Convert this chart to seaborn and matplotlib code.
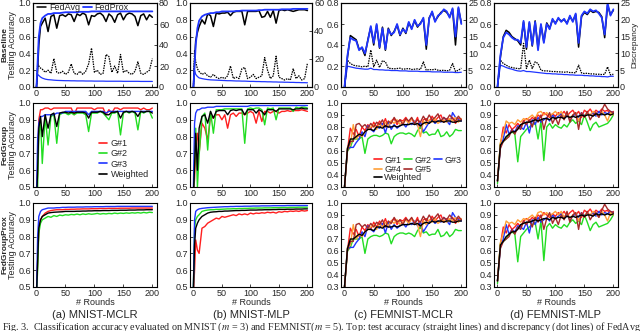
import matplotlib
matplotlib.use("Agg")
import matplotlib.pyplot as plt
import seaborn as sns
from matplotlib.lines import Line2D

# x positions (communication rounds)
MNIST_ROUNDS = [0, 2, 4, 7] + list(range(10, 201, 5))
FEMNIST_ROUNDS = list(range(0, 201, 5))

# ---------------- Baseline row: accuracy (left axis) + discrepancy (right axis)
# (a) MNIST-MCLR
avg_acc_a = [0.0, 0.2, 0.5, 0.72, 0.76, 0.82, 0.66, 0.84, 0.86, 0.70, 0.85, 0.86, 0.84, 0.87, 0.86, 0.78, 0.87, 0.85, 0.88, 0.86, 0.74, 0.85,
             0.84, 0.87, 0.88, 0.85, 0.78, 0.87, 0.84, 0.77, 0.86, 0.88, 0.80, 0.86, 0.88, 0.87, 0.84, 0.73, 0.85, 0.87, 0.80, 0.86, 0.83]
prox_acc_a = [0.0, 0.3, 0.6, 0.76, 0.82, 0.85, 0.87, 0.87, 0.88, 0.88, 0.88, 0.885, 0.89, 0.89, 0.89, 0.89, 0.89, 0.895, 0.895, 0.895, 0.895,
              0.9, 0.9, 0.9, 0.9, 0.9, 0.9, 0.9, 0.9, 0.9, 0.9, 0.9, 0.9, 0.9, 0.9, 0.9, 0.9, 0.9, 0.9, 0.9, 0.9, 0.9, 0.9]
avg_disc_a = [0, 22, 20, 18, 17, 14, 16, 13, 27, 14, 13, 15, 12, 14, 22, 13, 12, 15, 12, 15, 22, 37, 14, 16, 12, 13, 31, 29, 14, 20, 13, 31,
              14, 16, 13, 12, 15, 24, 13, 12, 14, 16, 27]
prox_disc_a = [0, 12, 11, 9.5, 8.5, 7.5, 7, 6.8, 6.5, 6.3, 6.2, 6.1, 6, 6, 5.9, 5.9, 5.8, 5.8, 5.8, 5.7, 5.7, 5.7, 5.6, 5.6, 5.6, 5.6, 5.5,
               5.5, 5.5, 5.5, 5.5, 5.5, 5.4, 5.4, 5.4, 5.4, 5.4, 5.4, 5.3, 5.3, 5.3, 5.3, 5.3]
# (b) MNIST-MLP
avg_acc_b = [0.0, 0.3, 0.55, 0.65, 0.72, 0.80, 0.75, 0.87, 0.85, 0.72, 0.88, 0.87, 0.88, 0.88, 0.89, 0.85, 0.89, 0.90, 0.90, 0.90, 0.74, 0.90,
             0.90, 0.90, 0.90, 0.91, 0.83, 0.84, 0.90, 0.83, 0.91, 0.76, 0.91, 0.92, 0.91, 0.92, 0.91, 0.90, 0.91, 0.92, 0.92, 0.92, 0.91]
prox_acc_b = [0.0, 0.25, 0.5, 0.7, 0.79, 0.84, 0.86, 0.87, 0.88, 0.88, 0.89, 0.89, 0.9, 0.9, 0.9, 0.9, 0.9, 0.905, 0.905, 0.91, 0.91, 0.91,
              0.91, 0.91, 0.91, 0.915, 0.915, 0.92, 0.92, 0.92, 0.92, 0.92, 0.92, 0.925, 0.925, 0.925, 0.925, 0.93, 0.93, 0.93, 0.93, 0.93, 0.93]
avg_disc_b = [0, 26, 18, 13, 11, 9, 10, 8, 7, 9, 7, 6, 7, 6, 8, 15, 6, 7, 6, 13, 14, 6, 7, 9, 6, 7, 8, 21, 12, 6, 8, 22, 7, 6, 5, 6, 5, 13,
              6, 8, 5, 6, 17]
prox_disc_b = [0, 12, 9, 7.5, 6.5, 6, 5.6, 5.3, 5.1, 5, 4.9, 4.8, 4.7, 4.6, 4.5, 4.5, 4.4, 4.3, 4.3, 4.2, 4.2, 4.1, 4.0, 4.0, 3.9, 3.9, 3.8,
               3.8, 3.7, 3.7, 3.6, 3.6, 3.5, 3.5, 3.4, 3.4, 3.3, 3.3, 3.2, 3.2, 3.1, 3.1, 3.0]
# (c) FEMNIST-MCLR
avg_acc_c = [0.0, 0.28, 0.49, 0.47, 0.45, 0.36, 0.37, 0.30, 0.45, 0.57, 0.40, 0.59, 0.37, 0.57, 0.35, 0.56, 0.49, 0.53, 0.59, 0.49, 0.56,
             0.51, 0.61, 0.56, 0.63, 0.57, 0.61, 0.65, 0.36, 0.66, 0.71, 0.63, 0.67, 0.71, 0.73, 0.71, 0.67, 0.74, 0.40, 0.75, 0.61]
prox_acc_c = [0.0, 0.30, 0.47, 0.45, 0.44, 0.35, 0.38, 0.32, 0.44, 0.58, 0.42, 0.60, 0.38, 0.56, 0.36, 0.55, 0.50, 0.52, 0.60, 0.50, 0.55,
              0.52, 0.62, 0.55, 0.64, 0.58, 0.60, 0.66, 0.40, 0.65, 0.72, 0.62, 0.68, 0.70, 0.74, 0.72, 0.66, 0.75, 0.48, 0.76, 0.60]
avg_disc_c = [0, 8, 7, 6.5, 6.3, 6.2, 6.0, 6.2, 6.0, 11, 6.0, 8.0, 5.8, 7.8, 7.5, 5.6, 5.5, 5.4, 5.5, 5.6, 5.3, 5.4, 5.5, 5.2, 5.3, 5.4,
              5.2, 7.5, 5.0, 5.2, 5.1, 5.3, 5.0, 4.9, 5.0, 4.8, 5.0, 7.0, 4.6, 5.0, 5.6]
prox_disc_c = [0, 6.2, 6.0, 5.8, 5.6, 5.5, 5.4, 5.3, 5.3, 5.6, 5.2, 5.2, 5.1, 5.1, 5.0, 5.0, 4.9, 4.9, 4.9, 4.8, 4.8, 4.8, 4.7, 4.7, 4.7,
               4.7, 4.6, 4.6, 4.6, 4.6, 4.5, 4.5, 4.5, 4.5, 4.4, 4.4, 4.4, 4.4, 4.3, 4.3, 4.4]
# (d) FEMNIST-MLP
avg_acc_d = [0.0, 0.28, 0.48, 0.54, 0.52, 0.48, 0.46, 0.44, 0.40, 0.62, 0.36, 0.61, 0.39, 0.63, 0.37, 0.59, 0.43, 0.61, 0.56, 0.64, 0.61,
             0.65, 0.63, 0.64, 0.61, 0.67, 0.63, 0.69, 0.38, 0.67, 0.71, 0.69, 0.73, 0.71, 0.72, 0.71, 0.67, 0.47, 0.78, 0.69, 0.73]
prox_acc_d = [0.0, 0.30, 0.47, 0.52, 0.50, 0.47, 0.45, 0.45, 0.42, 0.63, 0.38, 0.62, 0.40, 0.62, 0.35, 0.60, 0.42, 0.60, 0.55, 0.65, 0.60,
              0.66, 0.62, 0.65, 0.60, 0.68, 0.62, 0.70, 0.42, 0.68, 0.72, 0.70, 0.74, 0.72, 0.73, 0.70, 0.66, 0.50, 0.80, 0.68, 0.74]
avg_disc_d = [0, 8, 7, 6.5, 6.0, 5.8, 5.6, 5.5, 5.4, 13, 5.5, 8.0, 5.5, 7.5, 7.0, 5.0, 4.8, 4.8, 4.7, 4.6, 4.6, 4.5, 4.5, 4.4, 4.5, 4.3,
              4.3, 4.2, 6.5, 4.2, 4.0, 4.1, 3.9, 3.9, 3.8, 3.8, 3.7, 3.8, 6.0, 3.6, 3.8]
prox_disc_d = [0, 6.5, 6.2, 5.8, 5.5, 5.3, 5.0, 4.8, 4.7, 4.9, 4.6, 4.6, 4.5, 4.4, 4.3, 4.2, 4.1, 4.0, 4.0, 3.9, 3.9, 3.8, 3.8, 3.7, 3.7,
               3.6, 3.6, 3.5, 3.5, 3.5, 3.4, 3.4, 3.3, 3.3, 3.2, 3.2, 3.1, 3.1, 3.0, 3.2, 3.2]

# ---------------- FedGroup row, MNIST (G#1, G#2, G#3, Weighted)
g1_a_mid = [0.40, 0.60, 0.90, 0.96, 0.96, 0.97, 0.97, 0.96, 0.97, 0.97, 0.97, 0.97, 0.97, 0.97, 0.97, 0.93, 0.97, 0.97, 0.97, 0.97, 0.97,
            0.97, 0.96, 0.97, 0.97, 0.97, 0.93, 0.96, 0.94, 0.97, 0.97, 0.96, 0.97, 0.97, 0.97, 0.97, 0.97, 0.97, 0.96, 0.97, 0.96, 0.96, 0.97]
g2_a_mid = [0.40, 0.50, 0.80, 0.90, 0.64, 0.92, 0.75, 0.92, 0.93, 0.76, 0.93, 0.94, 0.94, 0.93, 0.94, 0.93, 0.94, 0.94, 0.94, 0.93, 0.83,
            0.94, 0.94, 0.94, 0.95, 0.94, 0.92, 0.90, 0.94, 0.94, 0.95, 0.81, 0.94, 0.95, 0.94, 0.95, 0.94, 0.84, 0.95, 0.94, 0.95, 0.95, 0.91]
g3_a_mid = [0.45, 0.78, 0.88, 0.92, 0.92, 0.93, 0.93, 0.93, 0.93, 0.94, 0.94, 0.94, 0.95, 0.95, 0.95, 0.95, 0.95, 0.95, 0.95, 0.95, 0.93,
            0.95, 0.95, 0.95, 0.95, 0.95, 0.94, 0.95, 0.95, 0.95, 0.95, 0.95, 0.95, 0.95, 0.95, 0.95, 0.95, 0.95, 0.95, 0.95, 0.95, 0.95, 0.95]
wt_a_mid = [0.40, 0.60, 0.85, 0.92, 0.80, 0.93, 0.85, 0.93, 0.94, 0.86, 0.94, 0.945, 0.945, 0.94, 0.945, 0.94, 0.945, 0.945, 0.945, 0.94,
            0.91, 0.945, 0.945, 0.945, 0.95, 0.945, 0.93, 0.93, 0.945, 0.945, 0.95, 0.91, 0.945, 0.95, 0.945, 0.95, 0.945, 0.92, 0.95, 0.945,
            0.95, 0.95, 0.94]
g1_b_mid = [0.45, 0.55, 0.75, 0.82, 0.70, 0.88, 0.85, 0.78, 0.92, 0.91, 0.93, 0.93, 0.90, 0.93, 0.85, 0.93, 0.94, 0.92, 0.94, 0.94, 0.93,
            0.94, 0.95, 0.94, 0.88, 0.95, 0.89, 0.95, 0.95, 0.94, 0.95, 0.95, 0.94, 0.95, 0.95, 0.955, 0.95, 0.955, 0.955, 0.955, 0.96, 0.955,
            0.95]
g2_b_mid = [0.45, 0.65, 0.85, 0.50, 0.69, 0.92, 0.94, 0.72, 0.95, 0.82, 0.96, 0.96, 0.96, 0.965, 0.965, 0.965, 0.965, 0.965, 0.965, 0.965,
            0.76, 0.965, 0.97, 0.965, 0.97, 0.97, 0.96, 0.87, 0.97, 0.965, 0.97, 0.90, 0.97, 0.97, 0.97, 0.97, 0.97, 0.95, 0.975, 0.97, 0.975,
            0.975, 0.97]
g3_b_mid = [0.50, 0.88, 0.94, 0.96, 0.96, 0.97, 0.97, 0.975, 0.975, 0.975, 0.98, 0.98, 0.98, 0.98, 0.98, 0.98, 0.98, 0.98, 0.98, 0.98,
            0.98, 0.98, 0.985, 0.985, 0.985, 0.985, 0.985, 0.985, 0.985, 0.985, 0.985, 0.985, 0.985, 0.985, 0.985, 0.985, 0.985, 0.985,
            0.985, 0.985, 0.985, 0.985, 0.985]
wt_b_mid = [0.45, 0.62, 0.82, 0.60, 0.85, 0.92, 0.93, 0.88, 0.95, 0.91, 0.95, 0.955, 0.955, 0.955, 0.93, 0.955, 0.96, 0.955, 0.96, 0.96,
            0.93, 0.96, 0.96, 0.96, 0.94, 0.96, 0.95, 0.93, 0.96, 0.96, 0.96, 0.95, 0.965, 0.965, 0.965, 0.965, 0.965, 0.96, 0.965, 0.965,
            0.97, 0.965, 0.965]

# ---------------- FedGroup / FedGroupProx, FEMNIST (G#1..G#5, Weighted)
g1_c = [0.3, 0.6, 0.79, 0.74, 0.78, 0.72, 0.8, 0.77, 0.82, 0.78, 0.84, 0.8, 0.85, 0.81, 0.87, 0.8, 0.85, 0.87, 0.82, 0.86, 0.85, 0.88, 0.84,
        0.87, 0.83, 0.88, 0.79, 0.86, 0.87, 0.84, 0.89, 0.85, 0.88, 0.9, 0.84, 0.87, 0.86, 0.88, 0.83, 0.87, 0.86]
g2_c = [0.3, 0.6, 0.63, 0.7, 0.7, 0.7, 0.72, 0.58, 0.7, 0.72, 0.73, 0.73, 0.72, 0.73, 0.75, 0.74, 0.66, 0.72, 0.74, 0.75, 0.75, 0.74, 0.75,
        0.74, 0.72, 0.77, 0.8, 0.75, 0.76, 0.73, 0.74, 0.74, 0.78, 0.72, 0.73, 0.76, 0.72, 0.74, 0.78, 0.77, 0.77]
g3_c = [0.3, 0.62, 0.63, 0.63, 0.67, 0.7, 0.76, 0.72, 0.81, 0.78, 0.76, 0.8, 0.79, 0.83, 0.75, 0.84, 0.78, 0.82, 0.79, 0.81, 0.83, 0.8, 0.84,
        0.82, 0.85, 0.81, 0.84, 0.76, 0.8, 0.84, 0.86, 0.83, 0.85, 0.84, 0.88, 0.85, 0.82, 0.92, 0.88, 0.86, 0.85]
g4_c = [0.3, 0.63, 0.65, 0.82, 0.7, 0.74, 0.72, 0.76, 0.78, 0.8, 0.82, 0.78, 0.83, 0.8, 0.84, 0.81, 0.85, 0.83, 0.86, 0.82, 0.84, 0.86, 0.83,
        0.87, 0.84, 0.82, 0.72, 0.85, 0.82, 0.86, 0.84, 0.87, 0.83, 0.85, 0.86, 0.84, 0.87, 0.85, 0.88, 0.84, 0.87]
g5_c = [0.3, 0.6, 0.68, 0.68, 0.82, 0.83, 0.8, 0.82, 0.79, 0.83, 0.8, 0.84, 0.82, 0.86, 0.8, 0.85, 0.83, 0.88, 0.84, 0.86, 0.82, 0.87, 0.85,
        0.88, 0.83, 0.86, 0.84, 0.89, 0.85, 0.9, 0.86, 0.88, 0.91, 0.85, 0.88, 0.86, 0.9, 0.87, 0.85, 0.89, 0.86]
wt_c = [0.3, 0.62, 0.7, 0.7, 0.72, 0.74, 0.73, 0.76, 0.78, 0.78, 0.77, 0.8, 0.8, 0.79, 0.81, 0.8, 0.8, 0.81, 0.8, 0.81, 0.82, 0.82, 0.82,
        0.83, 0.82, 0.83, 0.81, 0.83, 0.84, 0.83, 0.85, 0.84, 0.85, 0.85, 0.84, 0.85, 0.85, 0.84, 0.84, 0.85, 0.85]
g1_d = [0.35, 0.65, 0.8, 0.75, 0.82, 0.78, 0.8, 0.83, 0.8, 0.85, 0.87, 0.85, 0.88, 0.86, 0.9, 0.88, 0.92, 0.9, 0.88, 0.91, 0.89, 0.92, 0.9,
        0.93, 0.89, 0.92, 0.94, 0.9, 0.93, 0.88, 0.94, 0.92, 0.95, 0.91, 0.94, 0.92, 0.95, 0.93, 0.94, 0.9, 0.93]
g2_d = [0.33, 0.66, 0.68, 0.7, 0.74, 0.76, 0.74, 0.51, 0.72, 0.75, 0.78, 0.8, 0.82, 0.84, 0.7, 0.85, 0.52, 0.8, 0.83, 0.79, 0.82, 0.8, 0.79,
        0.82, 0.8, 0.84, 0.86, 0.83, 0.85, 0.82, 0.9, 0.84, 0.77, 0.82, 0.84, 0.8, 0.81, 0.82, 0.83, 0.86, 0.9]
g3_d = [0.35, 0.63, 0.7, 0.82, 0.74, 0.78, 0.76, 0.81, 0.8, 0.78, 0.84, 0.75, 0.86, 0.82, 0.88, 0.84, 0.86, 0.88, 0.85, 0.9, 0.87, 0.89, 0.91,
        0.88, 0.9, 0.86, 0.89, 0.91, 0.88, 0.92, 0.89, 0.91, 0.9, 0.92, 0.89, 0.93, 0.9, 0.92, 0.91, 0.93, 0.92]
g4_d = [0.35, 0.67, 0.75, 0.85, 0.83, 0.84, 0.82, 0.86, 0.84, 0.87, 0.86, 0.88, 0.9, 0.87, 0.92, 0.93, 0.9, 0.92, 0.89, 0.91, 0.93, 0.9, 0.93,
        0.88, 0.92, 0.87, 0.9, 0.92, 0.85, 0.91, 0.88, 0.92, 0.9, 0.93, 0.91, 0.88, 0.93, 0.9, 0.85, 0.92, 0.9]
g5_d = [0.35, 0.62, 0.68, 0.7, 0.72, 0.78, 0.74, 0.8, 0.78, 0.85, 0.82, 0.86, 0.8, 0.88, 0.84, 0.9, 0.78, 0.87, 0.92, 0.83, 0.88, 0.82, 0.9,
        0.86, 0.93, 0.84, 0.9, 0.92, 0.78, 0.92, 0.88, 0.93, 0.86, 0.9, 0.92, 0.88, 0.94, 0.99, 0.95, 0.93, 0.92]
wt_d = [0.35, 0.65, 0.68, 0.72, 0.74, 0.76, 0.76, 0.78, 0.82, 0.83, 0.84, 0.84, 0.85, 0.86, 0.85, 0.86, 0.87, 0.87, 0.86, 0.88, 0.87, 0.88,
        0.88, 0.87, 0.89, 0.88, 0.89, 0.88, 0.89, 0.9, 0.89, 0.9, 0.9, 0.89, 0.91, 0.9, 0.91, 0.9, 0.91, 0.9, 0.91]

# ---------------- FedGroupProx row, MNIST
g1_a_bot = [0.45, 0.65, 0.85, 0.90, 0.92, 0.94, 0.95, 0.955, 0.958, 0.96, 0.96, 0.96, 0.962, 0.962, 0.963, 0.963, 0.964, 0.964, 0.965,
            0.965, 0.965, 0.966, 0.966, 0.966, 0.967, 0.967, 0.967, 0.968, 0.968, 0.968, 0.968, 0.969, 0.969, 0.969, 0.969, 0.97, 0.97, 0.97,
            0.97, 0.97, 0.97, 0.97, 0.97]
g2_a_bot = [0.45, 0.60, 0.82, 0.88, 0.90, 0.91, 0.92, 0.915, 0.925, 0.92, 0.928, 0.925, 0.93, 0.928, 0.932, 0.93, 0.934, 0.93, 0.935, 0.932,
            0.936, 0.933, 0.935, 0.938, 0.934, 0.937, 0.935, 0.938, 0.936, 0.94, 0.937, 0.94, 0.938, 0.941, 0.939, 0.942, 0.94, 0.943, 0.94,
            0.944, 0.941, 0.945, 0.943]
g3_a_bot = [0.45, 0.80, 0.92, 0.95, 0.96, 0.965, 0.97, 0.97, 0.97, 0.972, 0.972, 0.974, 0.974, 0.975, 0.975, 0.975, 0.976, 0.976, 0.976,
            0.977, 0.977, 0.977, 0.978, 0.978, 0.978, 0.978, 0.979, 0.979, 0.979, 0.979, 0.98, 0.98, 0.98, 0.98, 0.98, 0.98, 0.98, 0.98, 0.98,
            0.98, 0.98, 0.98, 0.98]
wt_a_bot = [0.45, 0.65, 0.85, 0.90, 0.92, 0.93, 0.94, 0.943, 0.945, 0.946, 0.947, 0.948, 0.95, 0.95, 0.95, 0.95, 0.951, 0.951, 0.952,
            0.952, 0.953, 0.953, 0.954, 0.954, 0.954, 0.955, 0.955, 0.955, 0.956, 0.956, 0.956, 0.957, 0.957, 0.957, 0.958, 0.958, 0.958,
            0.959, 0.959, 0.959, 0.96, 0.96, 0.96]
g1_b_bot = [0.45, 0.60, 0.78, 0.72, 0.70, 0.85, 0.86, 0.88, 0.89, 0.90, 0.91, 0.905, 0.92, 0.915, 0.92, 0.925, 0.93, 0.925, 0.935, 0.93,
            0.935, 0.93, 0.94, 0.935, 0.94, 0.938, 0.942, 0.94, 0.945, 0.942, 0.945, 0.94, 0.948, 0.945, 0.95, 0.948, 0.952, 0.95, 0.953,
            0.95, 0.955, 0.952, 0.955]
g2_b_bot = [0.50, 0.85, 0.90, 0.92, 0.93, 0.95, 0.955, 0.958, 0.96, 0.96, 0.962, 0.962, 0.963, 0.964, 0.965, 0.965, 0.966, 0.966, 0.967,
            0.967, 0.968, 0.968, 0.969, 0.969, 0.97, 0.97, 0.97, 0.971, 0.971, 0.971, 0.972, 0.972, 0.972, 0.973, 0.973, 0.973, 0.974, 0.974,
            0.974, 0.975, 0.975, 0.975, 0.975]
g3_b_bot = [0.50, 0.90, 0.95, 0.96, 0.965, 0.968, 0.97, 0.972, 0.973, 0.974, 0.975, 0.976, 0.977, 0.978, 0.978, 0.979, 0.979, 0.98, 0.98,
            0.98, 0.981, 0.981, 0.981, 0.982, 0.982, 0.982, 0.983, 0.983, 0.983, 0.983, 0.984, 0.984, 0.984, 0.984, 0.984, 0.985, 0.985,
            0.985, 0.985, 0.985, 0.985, 0.985, 0.985]
wt_b_bot = [0.50, 0.75, 0.85, 0.88, 0.90, 0.92, 0.93, 0.94, 0.945, 0.947, 0.948, 0.95, 0.95, 0.952, 0.952, 0.953, 0.954, 0.955, 0.955,
            0.956, 0.956, 0.957, 0.958, 0.958, 0.958, 0.959, 0.959, 0.96, 0.96, 0.96, 0.961, 0.961, 0.962, 0.962, 0.962, 0.963, 0.963, 0.963,
            0.964, 0.964, 0.964, 0.965, 0.965]

SUBTITLES = ["(a) MNIST-MCLR", "(b) MNIST-MLP", "(c) FEMNIST-MCLR", "(d) FEMNIST-MLP"]
ROW_NAMES = ["Baseline", "FedGroup", "FedGroupProx"]
CAPTION = ("Fig. 3.  Classification accuracy evaluated on MNIST ($m$ = 3) and FEMNIST($m$ = 5). "
           "Top: test accuracy (straight lines) and discrepancy (dot lines) of FedAvg")

RED, GREEN, BLUE = "#ff1f1f", "#22dd22", "#1f35ff"
ORANGE, BROWN, BLACK = "#ffa038", "#a52a2a", "black"

sns.set_style("ticks")
plt.rcParams["font.family"] = ["Liberation Sans Narrow", "Liberation Sans", "DejaVu Sans"]
plt.rcParams["mathtext.fontset"] = "stix"
plt.rcParams["axes.edgecolor"] = "black"
plt.rcParams["axes.linewidth"] = 0.8

fig = plt.figure(figsize=(6.4, 3.31), dpi=100)
W, H = 640.0, 331.0
cols = [(33, 157), (190, 312), (341, 466), (494, 618)]
rows = [(3, 87), (103, 187), (203, 287)]
TS = 6.5
LS = 6.5


def make_ax(c, r):
    x0, x1 = cols[c]
    y0, y1 = rows[r]
    return fig.add_axes([x0 / W, 1 - y1 / H, (x1 - x0) / W, (y1 - y0) / H])


def style(ax, ylim, step):
    ax.set_xlim(-6, 208)
    ax.set_ylim(*ylim)
    ax.set_xticks([0, 50, 100, 150, 200])
    ticks = [round(ylim[0] + i * step, 2) for i in range(int(round((ylim[1] - ylim[0]) / step)) + 1)]
    ax.set_yticks(ticks)
    ax.set_yticklabels([f"{t:.1f}" for t in ticks])
    ax.tick_params(labelsize=TS, direction="in", length=2.5, width=0.6, pad=1.5)
    ax.set_xlabel("")
    ax.set_ylabel("")


def lines(ax, x, series, lw=1.0):
    for vals, color in series:
        sns.lineplot(x=x, y=vals, ax=ax, color=color, linewidth=lw)


def handle(color, lw=1.2):
    return Line2D([], [], color=color, lw=lw)


# ---- top row
top = [
    (MNIST_ROUNDS, avg_acc_a, prox_acc_a, avg_disc_a, prox_disc_a, (0, 1.0), 0.2, 80, 20),
    (MNIST_ROUNDS, avg_acc_b, prox_acc_b, avg_disc_b, prox_disc_b, (0, 1.0), 0.2, 60, 20),
    (FEMNIST_ROUNDS, avg_acc_c, prox_acc_c, avg_disc_c, prox_disc_c, (0, 0.8), 0.2, 25, 5),
    (FEMNIST_ROUNDS, avg_acc_d, prox_acc_d, avg_disc_d, prox_disc_d, (0, 0.8), 0.2, 25, 5),
]
for c, (x, aa, pa, ad, pd_, ylim, st, dmax, dstep) in enumerate(top):
    ax = make_ax(c, 0)
    ax2 = ax.twinx()
    sns.lineplot(x=x, y=ad, ax=ax2, color=BLACK, linewidth=0.9, linestyle=(0, (1.2, 0.8)))
    sns.lineplot(x=x, y=pd_, ax=ax2, color=BLUE, linewidth=0.9)
    sns.lineplot(x=x, y=aa, ax=ax, color=BLACK, linewidth=1.1)
    sns.lineplot(x=x, y=pa, ax=ax, color=BLUE, linewidth=1.3)
    ax.set_zorder(ax2.get_zorder() + 1)
    ax.patch.set_visible(False)
    style(ax, ylim, st)
    ax2.set_ylim(0, dmax)
    ax2.set_yticks(list(range(0, dmax + 1, dstep)))
    ax2.tick_params(labelsize=TS, direction="in", length=2.5, width=0.6, pad=1.5)
    ax2.set_ylabel("")
    if c == 0:
        ax.legend(handles=[handle(BLACK, 1.1), handle(BLUE, 1.3)],
                  labels=["FedAvg", "FedProx"], loc="upper left", bbox_to_anchor=(-0.01, 1.06), ncol=2,
                  frameon=False, fontsize=LS, handlelength=1.0, handletextpad=0.3, columnspacing=0.3, borderpad=0.1)
    if c == 3:
        ax2.set_ylabel("Discrepancy", fontsize=6, labelpad=1)

# ---- middle & bottom rows
mnist_sets = {
    (0, 1): [g1_a_mid, g2_a_mid, g3_a_mid, wt_a_mid],
    (1, 1): [g1_b_mid, g2_b_mid, g3_b_mid, wt_b_mid],
    (0, 2): [g1_a_bot, g2_a_bot, g3_a_bot, wt_a_bot],
    (1, 2): [g1_b_bot, g2_b_bot, g3_b_bot, wt_b_bot],
}
for (c, r), s in mnist_sets.items():
    ax = make_ax(c, r)
    lines(ax, MNIST_ROUNDS, list(zip(s, [RED, GREEN, BLUE, BLACK])))
    style(ax, (0.5, 1.0), 0.1)
    if r == 2:
        ax.set_xlabel("# Rounds", fontsize=TS, labelpad=0)
    if (c, r) == (0, 1):
        ax.legend(handles=[handle(col) for col in [RED, GREEN, BLUE, BLACK]],
                  labels=["G#1", "G#2", "G#3", "Weighted"], loc="lower right", bbox_to_anchor=(1.0, 0.0),
                  frameon=False, fontsize=LS, handlelength=0.9, handletextpad=0.4, labelspacing=0.15)

fem_sets = {
    2: [g1_c, g2_c, g3_c, g4_c, g5_c, wt_c],
    3: [g1_d, g2_d, g3_d, g4_d, g5_d, wt_d],
}
for r in (1, 2):
    for c, s in fem_sets.items():
        ax = make_ax(c, r)
        lines(ax, FEMNIST_ROUNDS, list(zip(s, [RED, GREEN, BLUE, ORANGE, BROWN, BLACK])))
        style(ax, (0.3, 1.0), 0.1)
        if r == 2:
            ax.set_xlabel("# Rounds", fontsize=TS, labelpad=0)
        if (c, r) == (2, 1):
            leg1 = ax.legend(handles=[handle(RED), handle(ORANGE), handle(GREEN), handle(BROWN), handle(BLUE)],
                             labels=["G#1", "G#4", "G#2", "G#5", "G#3"], ncol=3, loc="lower left",
                             bbox_to_anchor=(0.22, 0.09), frameon=False, fontsize=LS, handlelength=0.9,
                             handletextpad=0.25, columnspacing=0.3, labelspacing=0.05, borderpad=0.1)
            ax.add_artist(leg1)
            ax.legend(handles=[handle(BLACK)], labels=["Weighted"], loc="lower left",
                      bbox_to_anchor=(0.22, -0.01), frameon=False, fontsize=LS, handlelength=0.9,
                      handletextpad=0.25, borderpad=0.1)

# row labels (column a only)
for r, name in enumerate(ROW_NAMES):
    y0, y1 = rows[r]
    yc = 1 - (y0 + y1) / 2 / H
    fig.text(5 / W, yc, name, rotation=90, fontsize=6, fontweight="bold", ha="center", va="center")
    fig.text(12.5 / W, yc, "Testing Accuracy", rotation=90, fontsize=6.5, ha="center", va="center")

for c, t in enumerate(SUBTITLES):
    x0, x1 = cols[c]
    fig.text((x0 + x1) / 2 / W, 1 - 315 / H, t, fontsize=8, ha="center", va="center")

fig.text(2 / W, 1 - 321 / H, CAPTION, fontsize=7.3, ha="left", va="top", family="Liberation Serif")

fig.savefig("out.png", dpi=100)
